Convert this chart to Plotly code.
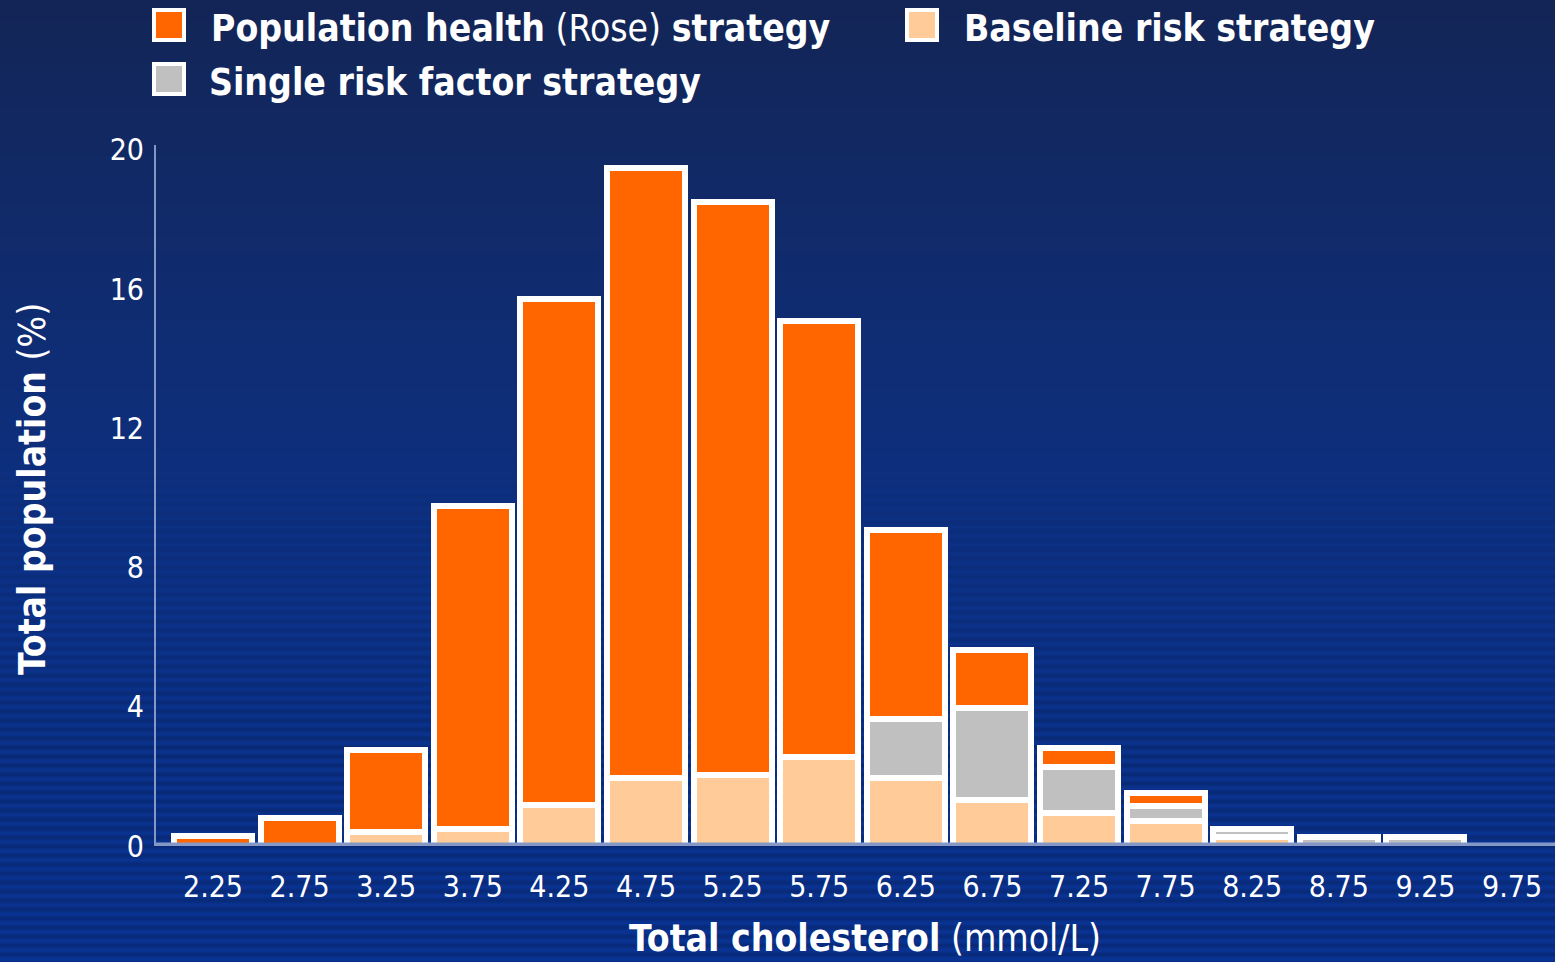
import base64
import math
import struct
import zlib

import plotly.graph_objects as go

# Total cholesterol bin centres (mmol/L) and axis ticks
cholesterol = [2.25, 2.75, 3.25, 3.75, 4.25, 4.75, 5.25, 5.75, 6.25, 6.75, 7.25, 7.75, 8.25, 8.75, 9.25]
x_ticks = [2.25, 2.75, 3.25, 3.75, 4.25, 4.75, 5.25, 5.75, 6.25, 6.75, 7.25, 7.75, 8.25, 8.75, 9.25, 9.75]
x_tick_labels = ["2.25", "2.75", "3.25", "3.75", "4.25", "4.75", "5.25", "5.75",
                 "6.25", "6.75", "7.25", "7.75", "8.25", "8.75", "9.25", "9.75"]
y_ticks = [0, 4, 8, 12, 16, 20]

# Share of the total population (%) reached by each strategy, stacked bottom to top
baseline_risk = [0, 0, 0.41, 0.48, 1.19, 1.95, 2.03, 2.55, 1.95, 1.32, 0.94, 0.71, 0.25, 0, 0]
single_risk = [0, 0, 0, 0, 0, 0, 0, 0, 1.71, 2.64, 1.34, 0.45, 0.23, 0.25, 0.25]
population_health = [0.30, 0.81, 2.34, 9.29, 14.53, 17.53, 16.48, 12.54, 5.42, 1.68, 0.54, 0.35, 0, 0, 0]

ORANGE = "#FF6600"
PEACH = "#FFCC99"
GREY = "#C0C0C0"
WHITE = "#FFFFFF"
AXIS_BLUE = "#8398C6"
FONT = "DejaVu Sans Condensed, DejaVu Sans, sans-serif"

W, H = 1555, 962
PLOT_L, PLOT_T, PLOT_B = 156, 145, 846
PLOT_W, PLOT_H = W - PLOT_L, PLOT_B - PLOT_T


def px(x):
    """Horizontal pixel -> paper coordinate."""
    return (x - PLOT_L) / PLOT_W


def py(y):
    """Vertical pixel -> paper coordinate."""
    return (PLOT_B - y) / PLOT_H


def backdrop_png(width=4, height=H):
    """Navy-to-blue vertical gradient with fine horizontal stripes towards the bottom."""
    stops = [(0, (19, 37, 86)), (300, (16, 44, 112)), (600, (11, 49, 136)), (height, (9, 51, 148))]
    rows = []
    for y in range(height):
        for (y0, c0), (y1, c1) in zip(stops, stops[1:]):
            if y0 <= y <= y1:
                t = (y - y0) / (y1 - y0)
                rgb = [c0[i] + (c1[i] - c0[i]) * t for i in range(3)]
                break
        if y > 420:
            amp = min(1.0, (y - 420) / 330) * 0.17
            shade = 1 - amp * (0.5 + 0.5 * math.cos(2 * math.pi * (y % 9) / 9))
            rgb = [v * shade for v in rgb]
        row = bytes(int(round(max(0, min(255, v)))) for v in rgb) * width
        rows.append(b"\x00" + row)

    def chunk(tag, data):
        return (struct.pack(">I", len(data)) + tag + data
                + struct.pack(">I", zlib.crc32(tag + data) & 0xFFFFFFFF))

    png = (b"\x89PNG\r\n\x1a\n"
           + chunk(b"IHDR", struct.pack(">IIBBBBB", width, height, 8, 2, 0, 0, 0))
           + chunk(b"IDAT", zlib.compress(b"".join(rows), 9))
           + chunk(b"IEND", b""))
    return "data:image/png;base64," + base64.b64encode(png).decode()


fig = go.Figure()

series = [
    ("Baseline risk strategy", baseline_risk, PEACH),
    ("Single risk factor strategy", single_risk, GREY),
    ("Population health (Rose) strategy", population_health, ORANGE),
]
for name, values, colour in series:
    fig.add_trace(go.Bar(
        x=cholesterol, y=values, name=name, width=0.45,
        marker=dict(color=colour, line=dict(color=WHITE, width=6)),
        showlegend=False, hoverinfo="x+y+name",
    ))

# Hand-built legend: large white-edged swatches with mixed-weight labels
legend_items = [
    (ORANGE, "<b>Population health</b> (Rose) <b>strategy</b>", 154, 10, 209),
    (PEACH, "<b>Baseline risk strategy</b>", 907, 10, 962),
    (GREY, "<b>Single risk factor strategy</b>", 154, 64, 207),
]
shapes = []
annotations = []
for colour, label, sx, sy, tx in legend_items:
    shapes.append(dict(
        type="rect", xref="paper", yref="paper",
        x0=px(sx), x1=px(sx + 30), y0=py(sy + 30), y1=py(sy),
        fillcolor=colour, line=dict(color=WHITE, width=4), layer="above",
    ))
    annotations.append(dict(
        text=label, xref="paper", yref="paper", x=px(tx), y=py(sy + 18),
        xanchor="left", yanchor="middle", showarrow=False,
        font=dict(family=FONT, size=37, color=WHITE),
    ))

# Thick baseline along y = 0
shapes.append(dict(
    type="line", xref="paper", yref="y", x0=0, x1=1, y0=0, y1=0,
    line=dict(color=AXIS_BLUE, width=7), layer="above",
))

annotations.append(dict(
    text="<b>Total population</b> (%)", xref="paper", yref="paper",
    x=px(32), y=py(489), xanchor="center", yanchor="middle", textangle=-90,
    showarrow=False, font=dict(family=FONT, size=37, color=WHITE),
))
annotations.append(dict(
    text="<b>Total cholesterol</b> (mmol/L)", xref="paper", yref="paper",
    x=px(865), y=py(939), xanchor="center", yanchor="middle",
    showarrow=False, font=dict(family=FONT, size=37, color=WHITE),
))

fig.update_layout(
    width=W, height=H,
    margin=dict(l=PLOT_L, r=0, t=PLOT_T, b=H - PLOT_B, pad=0),
    barmode="stack",
    paper_bgcolor="#0E2F7A",
    plot_bgcolor="rgba(0,0,0,0)",
    font=dict(family=FONT, color=WHITE),
    shapes=shapes,
    annotations=annotations,
    images=[dict(
        source=backdrop_png(), xref="paper", yref="paper",
        x=px(0), y=py(0), sizex=W / PLOT_W, sizey=H / PLOT_H,
        xanchor="left", yanchor="top", sizing="stretch", layer="below",
    )],
    xaxis=dict(
        range=[1.921, 9.998], tickmode="array", tickvals=x_ticks, ticktext=x_tick_labels,
        showgrid=False, zeroline=False, showline=False, ticks="",
        tickfont=dict(family=FONT, size=30, color=WHITE), ticklabelstandoff=20,
    ),
    yaxis=dict(
        range=[0, 20.14], tickmode="array", tickvals=y_ticks,
        showgrid=False, zeroline=False, showline=True, linecolor=AXIS_BLUE, linewidth=2,
        ticks="", tickfont=dict(family=FONT, size=30, color=WHITE), ticklabelstandoff=4,
    ),
)

fig.write_html("out.html", config={"displayModeBar": False})
